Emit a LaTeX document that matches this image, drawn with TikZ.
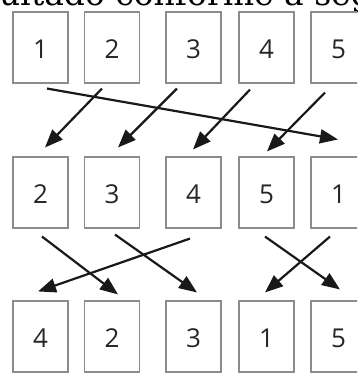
\documentclass[tikz,border=0pt]{standalone}
\usepackage{fontspec}
\setmainfont{Open Sans}
\newfontfamily\capfont{DejaVu Serif}
\usetikzlibrary{arrows.meta,calc}
\tikzset{
  card/.style={draw=black!45, line width=1.1pt, minimum width=55pt, minimum height=71pt,
    inner sep=0pt, font=\fontsize{26}{26}\selectfont, text=black!85, text depth=0pt},
  move/.style={line width=2.2pt, -{Triangle[length=18pt,width=14pt]}, black!90}
}
\begin{document}
\begin{tikzpicture}[x=1pt,y=-1pt]
\useasboundingbox (0,0) rectangle (357,373);
\clip (0,0) rectangle (357,373);
\node[anchor=base west, inner sep=0pt, font=\capfont\fontsize{33}{33}\selectfont] (cap) at (-1,5) {ultado conforme a seg};
% rows
\foreach \n/\x/\t in {1/40.5/1,2/112/2,3/193.5/3,4/266.5/4,5/338.5/5}
  \node[card] (a\n) at (\x,47.5) {\raisebox{-3pt}{\t}};
\foreach \n/\x/\t in {1/40.5/2,2/112/3,3/193.5/4,4/266.5/5,5/338.5/1}
  \node[card] (b\n) at (\x,192.5) {\raisebox{-3pt}{\t}};
\foreach \n/\x/\t in {1/40.5/4,2/112/2,3/193.5/3,4/266.5/1,5/338.5/5}
  \node[card] (c\n) at (\x,336.5) {\raisebox{-3pt}{\t}};
% first step
\draw[move] ($(a1.south)+(6.5,5)$) -- ($(b5.north)+(-0.5,-17)$);
\draw[move] ($(a2.south)+(-10,5)$) -- ($(b1.north)+(4.5,-9)$);
\draw[move] ($(a3.south)+(-16.5,5)$) -- ($(b2.north)+(6,-9)$);
\draw[move] ($(a4.south)+(-16.5,6)$) -- ($(b3.north)+(-0.5,-7)$);
\draw[move] ($(a5.south)+(-13.5,9)$) -- ($(b4.north)+(0.5,-5)$);
% second step
\draw[move] ($(b1.south)+(1.5,8)$) -- ($(c2.north)+(6,-6)$);
\draw[move] ($(b2.south)+(3,6)$) -- ($(c3.north)+(3.5,-8)$);
\draw[move] ($(b3.south)+(-3.5,10)$) -- ($(c1.north)+(-2.5,-9)$);
\draw[move] ($(b4.south)+(-1.5,8)$) -- ($(c5.north)+(1.5,-11)$);
\draw[move] ($(b5.south)+(-8.5,8)$) -- ($(c4.north)+(-1.5,-8)$);
\end{tikzpicture}
\end{document}
